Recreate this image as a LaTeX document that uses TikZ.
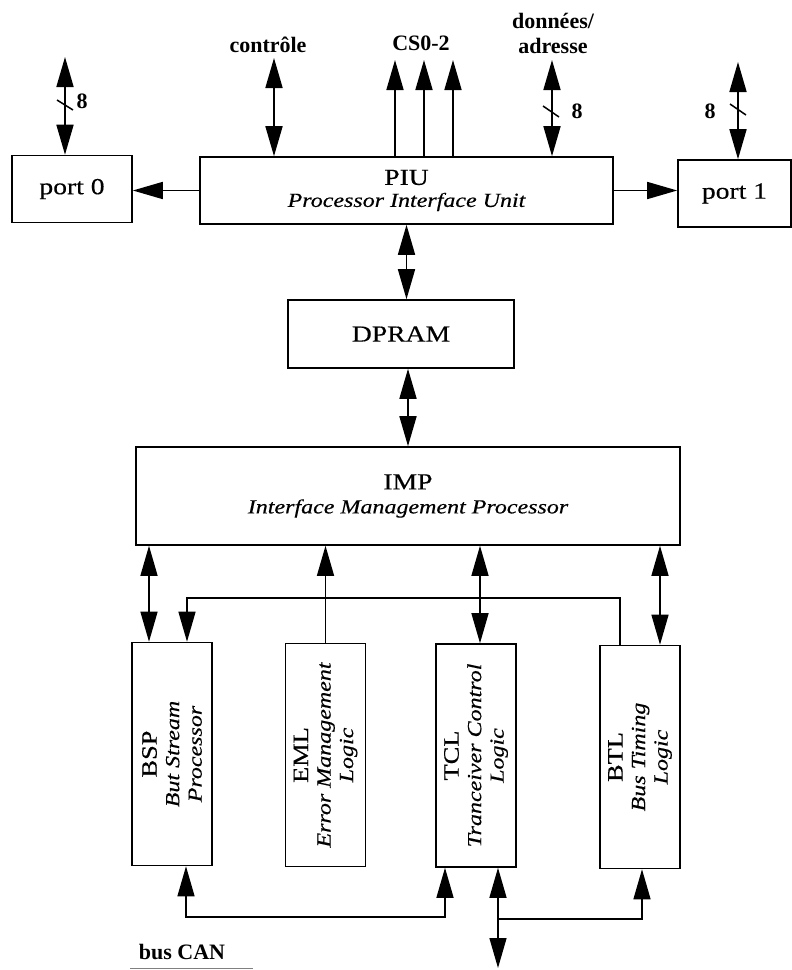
\documentclass[tikz,border=0pt]{standalone}
\usepackage{fontspec}
\setmainfont{Liberation Serif}
\newfontfamily\widefont{Liberation Serif}[FakeStretch=1.2, FakeBold=0.4]
\usepackage{tikz}
\usetikzlibrary{arrows.meta,positioning,calc}
\tikzset{
  blk/.style={draw, line width=1.6pt, inner sep=0pt, align=center,
              font=\widefont\fontsize{23}{25}\selectfont},
  vblk/.style={draw, line width=1.6pt, inner sep=0pt, minimum width=80pt, minimum height=223pt},
  vtxt/.style={rotate=90, align=center, inner sep=0pt, font=\widefont\fontsize{22}{22.5}\selectfont},
  sig/.style={font=\bfseries\fontsize{22}{25}\selectfont, align=center, inner sep=0pt},
  tip/.tip={Triangle[length=30pt, width=17pt]},
  one/.style={-tip, line width=1.7pt},
  two/.style={tip-tip, line width=1.7pt},
  onethin/.style={-tip, line width=1.4pt},
  twothin/.style={tip-tip, line width=1.4pt},
  bar/.style={line width=1.5pt},
}
\newcommand{\subt}[1]{{\itshape\fontsize{20}{24}\selectfont #1}}
\newcommand{\vsubt}[1]{{\itshape\fontsize{20}{22.5}\selectfont #1}}

\begin{document}
\begin{tikzpicture}[x=1pt, y=-1pt]
  \useasboundingbox (0,0) rectangle (792,970);
  % upper blocks
  \node[blk, minimum width=120pt, minimum height=67pt] (port0) at (72,189) {port 0};
  \node[blk, minimum width=413pt, minimum height=67pt] (piu) at (406.5,190.5)
       {PIU\\[-3pt]\subt{Processor Interface Unit}};
  \node[blk, minimum width=113pt, minimum height=67pt] (port1) at (734.5,193.5) {port 1};
  \node[blk, minimum width=226pt, minimum height=68pt] (dpram) at (401,334) {DPRAM};
  \node[blk, minimum width=544pt, minimum height=98pt] (imp) at (408,496)
       {IMP\\[-1pt]\subt{Interface Management Processor}};
  % lower blocks
  \node[vblk] (bsp) at (172,754) {};
  \node[vblk] (eml) at (325.5,755) {};
  \node[vblk] (tcl) at (476,755.5) {};
  \node[vblk] (btl) at (640,757) {};
  \node[vtxt] (bsplbl) at (bsp) {BSP\\\vsubt{But Stream}\\\vsubt{Processor}};
  \node[vtxt] (emllbl) at (eml) {EML\\\vsubt{Error Management}\\\vsubt{Logic}};
  \node[vtxt] (tcllbl) at (tcl) {TCL\\\vsubt{Tranceiver Control}\\\vsubt{Logic}};
  \node[vtxt] (btllbl) at (btl) {BTL\\\vsubt{Bus Timing}\\\vsubt{Logic}};
  % signal ends at the top
  \coordinate (p0top) at (65,57);
  \coordinate (ctltop) at (274,58);
  \coordinate (cs0) at (395,60);
  \coordinate (cs1) at (424,60);
  \coordinate (cs2) at (453,60);
  \coordinate (dattop) at (552,60);
  \coordinate (p1top) at (738,62);
  \coordinate (bus) at (498,968);
  \node[sig] (ctllbl) at (268,45) {contrôle};
  \node[sig] (cslbl) at (421,43) {CS0-2};
  \node[sig] (datlbl) at (553,33) {données/\\adresse};
  \node[sig] (n0) at (82,101) {8};
  \node[sig] (n1) at (577,111) {8};
  \node[sig] (n2) at (710,111) {8};
  \node[sig] (buslbl) at (182,952) {bus CAN};
  % top connectors
  \draw[two] (p0top) -- (p0top |- port0.north);
  \draw[two] (ctltop) -- (ctltop |- piu.north);
  \foreach \c in {cs0,cs1,cs2}
    \draw[one] (\c |- piu.north) -- (\c);
  \draw[two] (dattop) -- (dattop |- piu.north);
  \draw[two] (p1top) -- (p1top |- port1.north);
  \draw[bar] (57,100) -- (73,110);
  \draw[bar] (543,106) -- (559,117);
  \draw[bar] (730,104) -- (746,115);
  \draw[one] (piu.west) -- (piu.west -| port0.east);
  \draw[one] (piu.east) -- (piu.east -| port1.west);
  \draw[two] (piu.south) -- (piu.south |- dpram.north);
  \draw[two] (imp.north |- dpram.south) -- (imp.north);
  % IMP to the lower blocks
  \draw[twothin] (149,0 |- imp.south) -- (149,0 |- bsp.north);
  \draw[onethin] (eml.north) -- (eml.north |- imp.south);
  \draw[twothin] (480,0 |- tcl.north) -- (480,0 |- imp.south);
  \draw[twothin] (660,0 |- imp.south) -- (660,0 |- btl.north);
  \draw[onethin] (620,0 |- btl.north) -- (620,598) -- (187,598) -- (187,0 |- bsp.north);
  % CAN bus side
  \draw[twothin] (186,0 |- bsp.south) -- (186,917) -- (445,917) -- (445,0 |- tcl.south);
  \draw[twothin] (498,0 |- tcl.south) -- (bus);
  \draw[onethin] (498,919) -- (642,919) -- (642,0 |- btl.south);
  \draw[gray, line width=1pt] (130,968) -- (253,968);
\end{tikzpicture}
\end{document}
